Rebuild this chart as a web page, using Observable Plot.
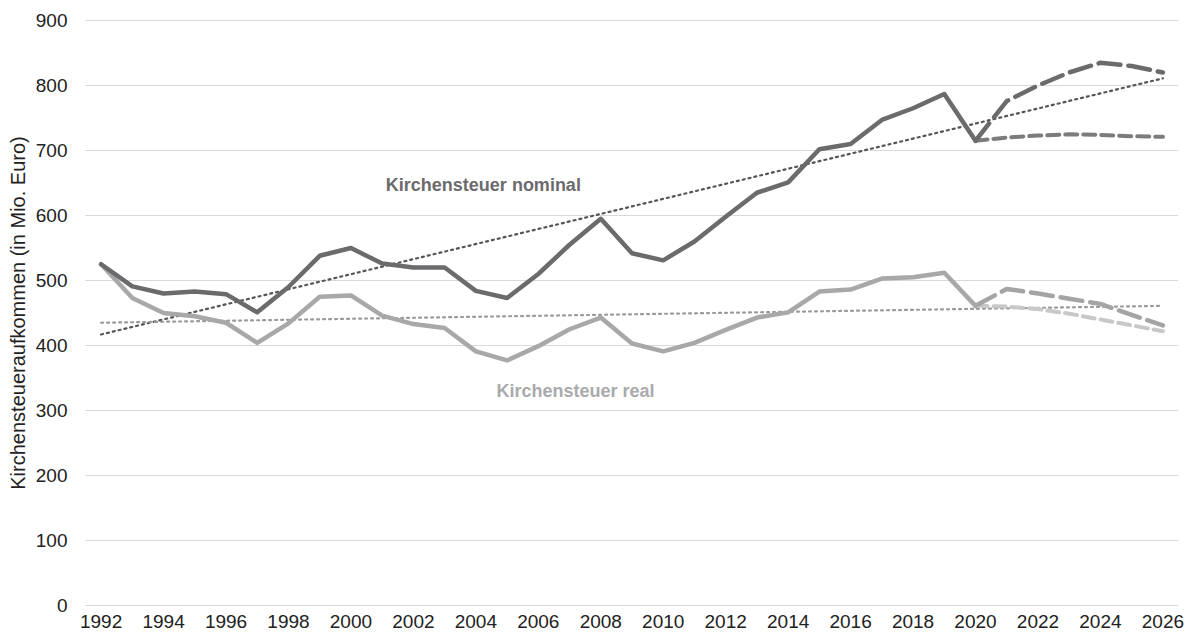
<!DOCTYPE html>
<html><head><meta charset="utf-8">
<script src="https://cdn.jsdelivr.net/npm/d3@7"></script>
<script src="https://cdn.jsdelivr.net/npm/@observablehq/plot@0.6"></script>
<style>
body{margin:0;background:#fff;font-family:"Liberation Sans",Arial,sans-serif;}
</style></head><body><div id="chart"></div>
<script>
const years = d3.range(1992, 2021);
const nominal = [525,491,480,483,479,451,490,538,550,526,520,520,484,473,510,555,595,542,531,560,598,635,651,702,710,747,765,787,715];
const real = [525,473,450,445,435,404,434,475,477,446,433,427,391,377,399,425,443,403,391,404,424,443,451,483,486,503,505,512,461];
const fcYears = [2020,2021,2022,2023,2024,2025,2026];
const nominalHigh = [715,776,800,820,835,830,820];
const nominalLow = [715,720,723,725,724,722,721];
const realHigh = [461,487,480,472,464,447,431];
const realLow = [461,460,456,449,440,431,422];
const trendYears = [1992, 2026];
const trendNominal = [417, 811];
const trendReal = [435, 461];
const yTicks = [0,100,200,300,400,500,600,700,800,900];
const xTicks = d3.range(1992, 2027, 2);
const labels = [
  {x: 2004.24, y: 646, text: "Kirchensteuer nominal", color: "#6b6b6d"},
  {x: 2007.19, y: 329, text: "Kirchensteuer real", color: "#aaaaac"}
];

const toRows = (xs, ys) => xs.map((x, i) => ({x, y: ys[i]}));

const chart = Plot.plot({
  width: 1192, height: 641,
  marginLeft: 85, marginRight: 14, marginTop: 20, marginBottom: 36,
  style: {fontFamily: "Liberation Sans, Arial, sans-serif", fontSize: "19px", color: "#222", background: "#fff"},
  x: {domain: [1991.5, 2026.5]},
  y: {domain: [0, 900]},
  marks: [
    Plot.gridY(yTicks, {stroke: "#d9d9d9", strokeOpacity: 1, strokeWidth: 1}),
    Plot.axisY({ticks: yTicks, tickSize: 0, tickPadding: 18, label: null, fontSize: 19}),
    Plot.axisY({ticks: [], tickSize: 0, label: "Kirchensteueraufkommen (in Mio. Euro)", labelAnchor: "center", labelArrow: "none", labelOffset: 75, fontSize: 20}),
    Plot.axisX({ticks: xTicks, tickSize: 0, tickPadding: 9, tickFormat: d => String(d), label: null, fontSize: 19}),
    Plot.line(toRows(trendYears, trendNominal), {x: "x", y: "y", stroke: "#555557", strokeWidth: 2.2, strokeDasharray: "2 4"}),
    Plot.line(toRows(trendYears, trendReal), {x: "x", y: "y", stroke: "#9a9a9c", strokeWidth: 2.2, strokeDasharray: "2 4"}),
    Plot.line(toRows(fcYears, realLow), {x: "x", y: "y", stroke: "#c8c8ca", strokeWidth: 4, strokeDasharray: "12 6"}),
    Plot.line(toRows(fcYears, realHigh), {x: "x", y: "y", stroke: "#a4a4a6", strokeWidth: 4.5, strokeDasharray: "22 8"}),
    Plot.line(toRows(fcYears, nominalLow), {x: "x", y: "y", stroke: "#7c7c7e", strokeWidth: 4, strokeDasharray: "12 6"}),
    Plot.line(toRows(fcYears, nominalHigh), {x: "x", y: "y", stroke: "#6b6b6d", strokeWidth: 4.5, strokeDasharray: "22 8"}),
    Plot.line(toRows(years, real), {x: "x", y: "y", stroke: "#a8a8aa", strokeWidth: 4.5}),
    Plot.line(toRows(years, nominal), {x: "x", y: "y", stroke: "#6b6b6d", strokeWidth: 4.5}),
    Plot.text(labels, {x: "x", y: "y", text: "text", fill: "color", fontWeight: "bold", fontSize: 18})
  ]
});
document.getElementById("chart").appendChild(chart);
</script></body></html>
